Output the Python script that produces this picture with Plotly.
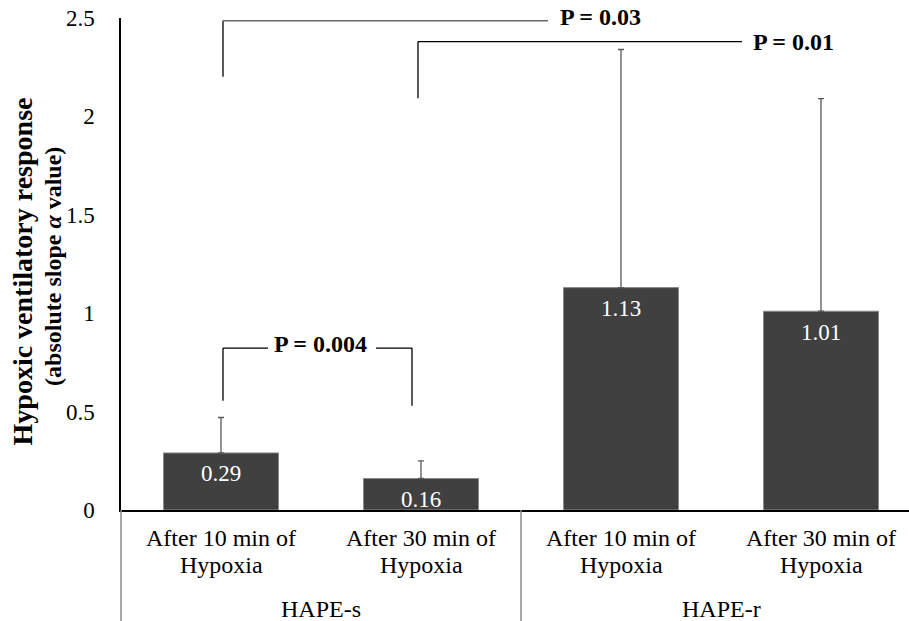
import plotly.graph_objects as go

# ---- data ----
cat_line1 = ["After 10 min of", "After 30 min of", "After 10 min of", "After 30 min of"]
cat_line2 = ["Hypoxia", "Hypoxia", "Hypoxia", "Hypoxia"]
groups = ["HAPE-s", "HAPE-r"]
values = [0.29, 0.16, 1.13, 1.01]
errors = [0.18, 0.09, 1.21, 1.08]
value_labels = ["0.29", "0.16", "1.13", "1.01"]
y_ticks = [0, 0.5, 1, 1.5, 2, 2.5]
y_ticktext = ["0", "0.5", "1", "1.5", "2", "2.5"]
y_title_lines = ["Hypoxic ventilatory response", "(absolute slope <i>α</i> value)"]
p_labels = ["P = 0.004", "P = 0.03", "P = 0.01"]
p_text_x = [0.495, 1.895, 2.86]
p_text_y = [0.827, 2.488, 2.361]

FONT = "Liberation Serif, Times New Roman, serif"
xs = list(range(len(values)))
x_range = [-0.5, 3.44]
y_range = [0, 2.5]

fig = go.Figure()
fig.add_trace(go.Bar(
    x=xs, y=values, width=0.575,
    marker=dict(color="#404040", line=dict(color="#8a8a8a", width=1)),
    error_y=dict(type="data", array=errors, arrayminus=[0] * len(values), symmetric=False,
                 color="#595959", thickness=1.3, width=3),
    showlegend=False, hoverinfo="skip",
))

ann = []
for x, v, t in zip(xs, values, value_labels):
    ann.append(dict(x=x, y=v, xref="x", yref="y", text=t, showarrow=False,
                    yanchor="middle", yshift=-21,
                    font=dict(family=FONT, size=23, color="white")))

def px(xd):
    return (xd - x_range[0]) / (x_range[1] - x_range[0])

for x, l1, l2 in zip(xs, cat_line1, cat_line2):
    ann.append(dict(x=x, y=-0.0569, xref="x", yref="paper", text=l1, showarrow=False,
                    yanchor="middle", font=dict(family=FONT, size=24, color="black")))
    ann.append(dict(x=x, y=-0.1118, xref="x", yref="paper", text=l2, showarrow=False,
                    yanchor="middle", font=dict(family=FONT, size=24, color="black")))
for gi, g in enumerate(groups):
    ann.append(dict(x=gi * 2 + 0.5, y=-0.201, xref="x", yref="paper", text=g, showarrow=False,
                    yanchor="middle", font=dict(family=FONT, size=24, color="black")))

# y-axis title (two lines, the first slightly larger)
ann.append(dict(x=-0.1244, y=0.4848, xref="paper", yref="paper",
                text="<b>" + y_title_lines[0] + "</b>",
                textangle=-90, showarrow=False, xanchor="center", yanchor="middle",
                font=dict(family=FONT, size=28, color="black")))
ann.append(dict(x=-0.087, y=0.4949, xref="paper", yref="paper",
                text="<b>" + y_title_lines[1] + "</b>",
                textangle=-90, showarrow=False, xanchor="center", yanchor="middle",
                font=dict(family=FONT, size=24, color="black")))

for t, x, y in zip(p_labels, p_text_x, p_text_y):
    ann.append(dict(x=x, y=y, xref="x", yref="y", text="<b>" + t + "</b>", showarrow=False,
                    xanchor="center", yanchor="middle", yshift=3,
                    font=dict(family=FONT, size=24, color="black")))

shapes = []
def line(x0, y0, x1, y1, color="black", w=1.3):
    shapes.append(dict(type="line", xref="x", yref="y", x0=x0, y0=y0, x1=x1, y1=y1,
                       line=dict(color=color, width=w), layer="above"))

# P = 0.004 bracket
line(0.01, 0.555, 0.01, 0.823)
line(0.01, 0.823, 0.235, 0.823)
line(0.775, 0.823, 0.955, 0.823)
line(0.955, 0.823, 0.955, 0.53)
# P = 0.03 bracket
line(0.01, 2.202, 0.01, 2.486)
line(0.01, 2.486, 1.635, 2.486, color="#6a6a6a")
# P = 0.01 bracket
line(0.985, 2.092, 0.985, 2.380)
line(0.985, 2.380, 2.605, 2.380)

for xd in [-0.5, 1.5, 3.5]:
    shapes.append(dict(type="line", xref="paper", yref="paper", x0=px(xd), x1=px(xd),
                       y0=0, y1=-0.2256, line=dict(color="#8c8c8c", width=1.5)))

fig.update_layout(
    width=909, height=621,
    margin=dict(l=121, r=0, t=18, b=111, pad=0),
    plot_bgcolor="white", paper_bgcolor="white",
    xaxis=dict(range=x_range, showticklabels=False, ticks="", showgrid=False, zeroline=False,
               showline=True, linecolor="black", linewidth=2.2, fixedrange=True),
    yaxis=dict(range=y_range, tickvals=y_ticks, ticktext=y_ticktext, ticks="", showgrid=False,
               zeroline=False, showline=True, linecolor="black", linewidth=1.5,
               ticklabelstandoff=20,
               tickfont=dict(family=FONT, size=23, color="black")),
    annotations=ann, shapes=shapes,
    font=dict(family=FONT),
)

fig.write_html("out.html")
